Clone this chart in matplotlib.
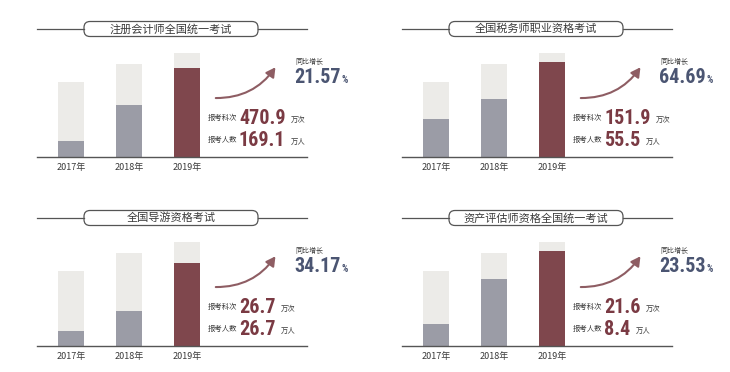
import matplotlib
matplotlib.use("Agg")
import matplotlib.pyplot as plt
from matplotlib import font_manager
from matplotlib.patches import FancyBboxPatch, FancyArrowPatch
from matplotlib.lines import Line2D

# ---------------- data ----------------
titles = ["注册会计师全国统一考试", "全国税务师职业资格考试",
          "全国导游资格考试", "资产评估师资格全国统一考试"]
years = ["2017年", "2018年", "2019年"]
# bar heights (relative scale)
back_heights = [[75, 93, 104], [75, 93, 104], [75, 93, 104], [75, 93, 104]]
front_heights = [[16, 52, 89], [38, 58, 95], [15, 35, 83], [22, 67, 95]]
growth = ["21.57", "64.69", "34.17", "23.53"]
exam_times = ["470.9", "151.9", "26.7", "21.6"]
exam_people = ["169.1", "55.5", "26.7", "8.4"]

# ---------------- style ----------------
names = {f.name for f in font_manager.fontManager.ttflist}
numfont = "DejaVu Sans"
for cand in ["Liberation Sans Narrow", "Roboto Condensed", "Open Sans Condensed", "Roboto"]:
    if cand in names:
        numfont = cand
        break
CJK = ["Noto Sans CJK SC", "DejaVu Sans"]
plt.rcParams["font.family"] = CJK

C_BACK = "#ecebe8"
C_GRAY = "#9b9ca6"
C_RED = "#7f474d"
C_NAVY = "#4b5572"
C_NUM = "#7a3a43"
C_TXT = "#3a3a3a"

W, H = 730, 372
fig = plt.figure(figsize=(W / 100, H / 100), dpi=100)
T = fig.dpi_scale_trans


def px(x, y):
    return x / 100, (H - y) / 100


offsets = [(0, 0), (365, 0), (0, 189), (365, 189)]

for i, (ox, oy) in enumerate(offsets):
    # axes for bars: x 37..307 px, baseline at 157 px, top at 50 px
    left, right = 37 + ox, 307 + ox
    base, top = 157 + oy, 50 + oy
    ax = fig.add_axes([left / W, (H - base) / H, (right - left) / W, (base - top) / H])
    xs = [0, 1, 2]
    ax.bar(xs, back_heights[i], width=0.45, color=C_BACK, zorder=1)
    ax.bar(xs, front_heights[i], width=0.45,
           color=[C_GRAY, C_GRAY, C_RED], zorder=2)
    ax.set_xlim(-0.586, 4.07)
    ax.set_ylim(0, 107)
    for s in ["top", "left", "right"]:
        ax.spines[s].set_visible(False)
    ax.spines["bottom"].set_color("#555555")
    ax.spines["bottom"].set_linewidth(1.0)
    ax.set_yticks([])
    ax.set_xticks(xs)
    ax.set_xticklabels(years, fontsize=6.5, color=C_TXT)
    ax.tick_params(axis="x", length=0, pad=4)
    ax.patch.set_alpha(0)

    # title line + pill box
    ty = 29 + oy
    bx0, bx1 = 84 + ox, 258 + ox
    for (a, b) in [(left, bx0), (bx1, right)]:
        fig.add_artist(Line2D([px(a, ty)[0], px(b, ty)[0]],
                              [px(a, ty)[1]] * 2, transform=T,
                              color="#555555", lw=0.9))
    x0, y0 = px(bx0, ty + 7.5)
    fig.add_artist(FancyBboxPatch((x0, y0), (bx1 - bx0) / 100, 0.15,
                                  boxstyle="round,pad=0,rounding_size=0.06",
                                  transform=T, facecolor="white",
                                  edgecolor="#555555", lw=0.9))
    fig.text(*px((bx0 + bx1) / 2, ty), titles[i], transform=T, ha="center",
             va="center", fontsize=8, color=C_TXT, fontweight="medium")

    # curved arrow
    arr = FancyArrowPatch(px(213 + ox, 98 + oy), px(277 + ox, 65 + oy),
                          transform=T, connectionstyle="arc3,rad=0.28",
                          arrowstyle="-|>,head_length=0.55,head_width=0.3",
                          mutation_scale=10, color="#8e5d63", lw=1.5)
    fig.add_artist(arr)

    # growth
    fig.text(*px(295 + ox, 62 + oy), "同比增长", transform=T, ha="left",
             va="center", fontsize=5, color=C_TXT)
    g = fig.text(*px(294 + ox, 83 + oy), growth[i], transform=T, ha="left",
                 va="baseline", fontsize=14.5, color=C_NAVY, fontweight="bold",
                 family=[numfont, "DejaVu Sans"])
    fig.add_artist(matplotlib.text.Annotation(
        "%", xy=(1, 0.2), xycoords=g, xytext=(0.5, 0), textcoords="offset points",
        ha="left", va="baseline", fontsize=7, color=C_NAVY, fontweight="bold",
        family=[numfont, "DejaVu Sans"]))

    # exam counts
    for j, (lab, val, unit, yy) in enumerate([
            ("报考科次", exam_times[i], "万次", 118),
            ("报考人数", exam_people[i], "万人", 140)]):
        fig.text(*px(208 + ox, yy + oy), lab, transform=T, ha="left",
                 va="center", fontsize=5.3, color=C_TXT)
        t = fig.text(*px(239 + ox, yy + 6 + oy), val, transform=T, ha="left",
                     va="baseline", fontsize=14.5, color=C_NUM, fontweight="bold",
                     family=[numfont, "DejaVu Sans"])
        fig.add_artist(matplotlib.text.Annotation(
            unit, xy=(1, 0.45), xycoords=t, xytext=(4, 0),
            textcoords="offset points", ha="left", va="center",
            fontsize=5.3, color=C_TXT))

fig.savefig("out.png", dpi=100)
